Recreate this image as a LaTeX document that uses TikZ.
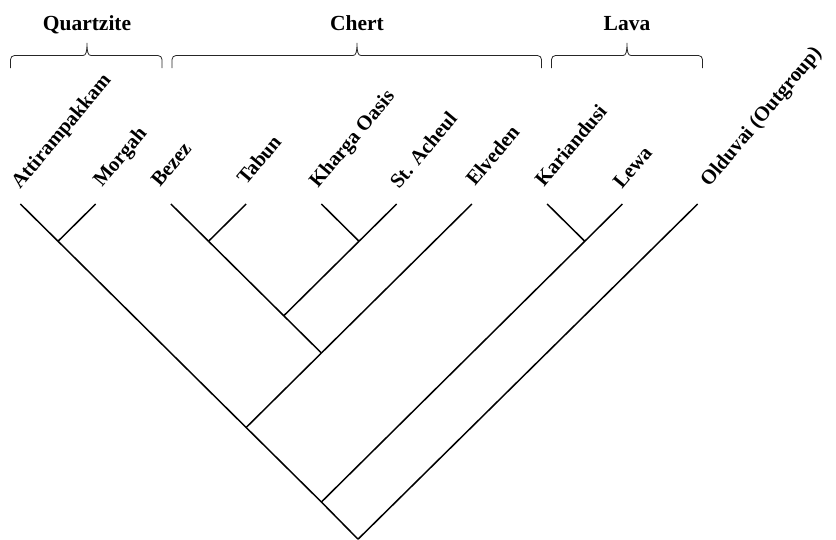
\documentclass[tikz,border=0pt]{standalone}
\usepackage{fontspec}
\setmainfont{Liberation Serif}
\begin{document}
\begin{tikzpicture}[x=1pt,y=-1pt,
  branch/.style={line width=1.5pt,line cap=butt},
  bracket/.style={line width=0.8pt,draw=black!85},
  taxon/.style={anchor=base west,rotate=50,inner sep=0pt,font=\bfseries\fontsize{20.5}{24}\selectfont},
  group/.style={anchor=base,inner sep=0pt,font=\bfseries\fontsize{21.5}{25}\selectfont}]
\useasboundingbox (0,0) rectangle (836,539);
% leaf tips
\coordinate (l0) at (20.4,204);
\coordinate (l1) at (95.65,204);
\coordinate (l2) at (170.9,204);
\coordinate (l3) at (246.15,204);
\coordinate (l4) at (321.4,204);
\coordinate (l5) at (396.65,204);
\coordinate (l6) at (471.9,204);
\coordinate (l7) at (547.15,204);
\coordinate (l8) at (622.4,204);
\coordinate (l9) at (697.65,204);
% internal nodes
\coordinate (n1) at (58.03,241.25);
\coordinate (n2) at (208.53,241.25);
\coordinate (n3) at (359.03,241.25);
\coordinate (n4) at (283.78,315.75);
\coordinate (n5) at (321.4,353.0);
\coordinate (n6) at (246.15,427.5);
\coordinate (n7) at (584.78,241.25);
\coordinate (n8) at (321.4,502.0);
\coordinate (rt) at (358.03,539.2);
% branches
\draw[branch] (l0) -- (n1);
\draw[branch] (l1) -- (n1);
\draw[branch] (l2) -- (n2);
\draw[branch] (l3) -- (n2);
\draw[branch] (l4) -- (n3);
\draw[branch] (l5) -- (n3);
\draw[branch] (n2) -- (n4);
\draw[branch] (n3) -- (n4);
\draw[branch] (n4) -- (n5);
\draw[branch] (l6) -- (n5);
\draw[branch] (n1) -- (n6);
\draw[branch] (n5) -- (n6);
\draw[branch] (l7) -- (n7);
\draw[branch] (l8) -- (n7);
\draw[branch] (n6) -- (n8);
\draw[branch] (n7) -- (n8);
\draw[branch] (n8) -- (rt);
\draw[branch] (l9) -- (rt);
% taxon labels
\node[taxon] (t0) at (20,190) {Attirampakkam};
\node[taxon] (t1) at (102,188) {Morgah};
\node[taxon] (t2) at (160,188) {Bezez};
\node[taxon] (t3) at (246,186) {Tabun};
\node[taxon] (t4) at (318,189) {Kharga Oasis};
\node[taxon] (t5) at (399,190) {St. Acheul};
\node[taxon] (t6) at (475,187) {Elveden};
\node[taxon] (t7) at (544,188) {Kariandusi};
\node[taxon] (t8) at (622,190) {Lewa};
\node[taxon] (t9) at (709,188) {Olduvai (Outgroup)};
% group brackets
\newcommand{\grpbracket}[3]{%
  \draw[bracket,rounded corners=4pt] (#1,68) -- (#1,55.5) -- (#2-4,55.5);
  \draw[bracket] (#2-4,55.5) .. controls (#2-1,55.5) and (#2,52) .. (#2,43)
     .. controls (#2,52) and (#2+1,55.5) .. (#2+4,55.5);
  \draw[bracket,rounded corners=4pt] (#2+4,55.5) -- (#3,55.5) -- (#3,68);}
\grpbracket{10.5}{87}{162}
\grpbracket{172}{357}{541.5}
\grpbracket{551.5}{627}{702.5}
\node[group] (g1) at (87,30) {Quartzite};
\node[group] (g2) at (357,30) {Chert};
\node[group] (g3) at (627,30) {Lava};
\end{tikzpicture}
\end{document}
